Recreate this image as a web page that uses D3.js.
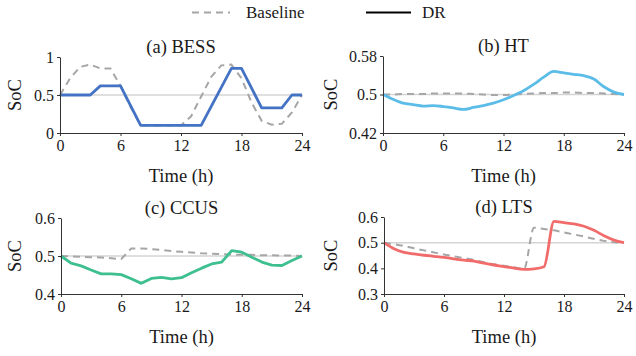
<!DOCTYPE html>
<html>
<head>
<meta charset="utf-8">
<script src="https://cdn.jsdelivr.net/npm/d3@7"></script>
<style>
  body { margin: 0; background: #fff; }
  text { font-family: "Liberation Serif", "Times New Roman", serif; fill: #1a1a1a; }
</style>
</head>
<body>
<div id="chart"></div>
<script>
// hours of the day
var hours = [0,1,2,3,4,5,6,7,8,9,10,11,12,13,14,15,16,17,18,19,20,21,22,23,24]
var xTicks = [0, 6, 12, 18, 24]

// (a) BESS
var bessBase = [0.5,0.72,0.87,0.9,0.85,0.85,0.62,0.34,0.1,0.1,0.1,0.1,0.1,0.22,0.48,0.74,0.89,0.9,0.72,0.4,0.16,0.11,0.12,0.27,0.5]
var bessDR = [0.5,0.5,0.5,0.5,0.62,0.62,0.62,0.36,0.1,0.1,0.1,0.1,0.1,0.1,0.1,0.35,0.6,0.85,0.85,0.59,0.33,0.33,0.33,0.5,0.5]
var bessTicks = [0, 0.5, 1]

// (b) HT
var htBase = [0.5,0.5,0.501,0.501,0.501,0.502,0.502,0.502,0.502,0.501,0.5,0.499,0.499,0.5,0.501,0.502,0.503,0.503,0.504,0.504,0.503,0.503,0.502,0.501,0.5]
var htDR = [0.5,0.49,0.482,0.479,0.476,0.477,0.475,0.472,0.469,0.473,0.477,0.482,0.489,0.498,0.508,0.521,0.536,0.548,0.545,0.542,0.539,0.532,0.516,0.505,0.5]
var htTicks = [0.42, 0.5, 0.58]

// (c) CCUS
var ccusBase = [0.5,0.499,0.498,0.497,0.496,0.494,0.492,0.52,0.52,0.518,0.516,0.513,0.511,0.509,0.507,0.506,0.505,0.504,0.503,0.503,0.502,0.502,0.501,0.501,0.5]
var ccusDR = [0.5,0.481,0.474,0.463,0.453,0.453,0.451,0.44,0.428,0.441,0.444,0.44,0.443,0.456,0.468,0.479,0.484,0.514,0.51,0.497,0.484,0.476,0.475,0.488,0.5]
var ccusTicks = [0.4, 0.5, 0.6]

// (d) LTS
var ltsBase = [0.5,0.494,0.487,0.478,0.47,0.462,0.454,0.447,0.44,0.433,0.424,0.416,0.41,0.404,0.398,0.558,0.553,0.548,0.54,0.532,0.524,0.515,0.507,0.502,0.5]
var ltsDR = [0.5,0.476,0.462,0.456,0.451,0.447,0.443,0.437,0.432,0.428,0.42,0.413,0.407,0.401,0.396,0.398,0.406,0.583,0.578,0.573,0.564,0.548,0.527,0.51,0.5]
var ltsTicks = [0.3, 0.4, 0.5, 0.6]

var width = 636, height = 356

var svg = d3.select("#chart").append("svg")
    .attr("width", width)
    .attr("height", height)

// panel layout: plot area boxes
var panels = [
  { title: "(a) BESS", left: 60, top: 57, w: 242, h: 76, domain: [0, 1], ticks: bessTicks, base: bessBase, dr: bessDR, color: "#4472c4", curve: d3.curveLinear, labelX: 21 },
  { title: "(b) HT", left: 383, top: 56, w: 241, h: 77, domain: [0.42, 0.58], ticks: htTicks, base: htBase, dr: htDR, color: "#5bbce8", curve: d3.curveMonotoneX, labelX: 337 },
  { title: "(c) CCUS", left: 61, top: 218, w: 241, h: 76, domain: [0.4, 0.6], ticks: ccusTicks, base: ccusBase, dr: ccusDR, color: "#3dbf8f", curve: d3.curveLinear, labelX: 21 },
  { title: "(d) LTS", left: 384, top: 217, w: 240, h: 77, domain: [0.3, 0.6], ticks: ltsTicks, base: ltsBase, dr: ltsDR, color: "#f26b6b", curve: d3.curveMonotoneX, labelX: 337 }
]

panels.forEach(function (p) {
  var g = svg.append("g").attr("transform", "translate(" + p.left + "," + p.top + ")")

  var x = d3.scaleLinear().domain([0, 24]).range([0, p.w])
  var y = d3.scaleLinear().domain(p.domain).range([p.h, 0])

  // 0.5 reference line
  g.append("line")
    .attr("x1", 0).attr("x2", p.w)
    .attr("y1", y(0.5)).attr("y2", y(0.5))
    .attr("stroke", "#d4d4d4").attr("stroke-width", 1.5)

  var line = d3.line()
    .x(function (d, i) { return x(hours[i]) })
    .y(function (d) { return y(d) })

  g.append("path")
    .datum(p.base)
    .attr("d", line.curve(p.curve))
    .attr("fill", "none")
    .attr("stroke", "#a6a6a6")
    .attr("stroke-width", 2)
    .attr("stroke-dasharray", "7,5")

  g.append("path")
    .datum(p.dr)
    .attr("d", line.curve(p.curve))
    .attr("fill", "none")
    .attr("stroke", p.color)
    .attr("stroke-width", 2.8)
    .attr("stroke-linejoin", "round")

  var xAxis = g.append("g")
    .attr("transform", "translate(0," + p.h + ")")
    .call(d3.axisBottom(x).tickValues(xTicks).tickSize(3).tickSizeOuter(0).tickPadding(4))
  var yAxis = g.append("g")
    .call(d3.axisLeft(y).tickValues(p.ticks).tickSize(3).tickSizeOuter(0).tickPadding(3)
      .tickFormat(function (d) { return String(d) }))

  ;[xAxis, yAxis].forEach(function (a) {
    a.select(".domain").attr("stroke", "#333")
    a.selectAll(".tick line").attr("stroke", "#333")
    a.selectAll(".tick text")
      .style("font-family", "Liberation Serif")
      .style("font-size", "16px")
      .attr("fill", "#1a1a1a")
  })

  g.append("text")
    .attr("x", p.w / 2).attr("y", -4)
    .attr("text-anchor", "middle")
    .style("font-size", "18.5px")
    .text(p.title)

  g.append("text")
    .attr("x", p.w / 2).attr("y", p.h + 49)
    .attr("text-anchor", "middle")
    .style("font-size", "18.5px")
    .text("Time (h)")

  g.append("text")
    .attr("transform", "translate(" + (p.labelX - p.left) + "," + (p.h / 2) + ") rotate(-90)")
    .attr("text-anchor", "middle")
    .style("font-size", "18.5px")
    .text("SoC")
})

// legend
var legend = svg.append("g")
legend.append("line")
  .attr("x1", 192).attr("x2", 230).attr("y1", 12.5).attr("y2", 12.5)
  .attr("stroke", "#a6a6a6").attr("stroke-width", 2).attr("stroke-dasharray", "7,5")
legend.append("text").attr("x", 246).attr("y", 18).style("font-size", "17px").text("Baseline")
legend.append("line")
  .attr("x1", 366).attr("x2", 411).attr("y1", 12.5).attr("y2", 12.5)
  .attr("stroke", "#000").attr("stroke-width", 2)
legend.append("text").attr("x", 422).attr("y", 18).style("font-size", "17px").text("DR")
</script>
</body>
</html>
